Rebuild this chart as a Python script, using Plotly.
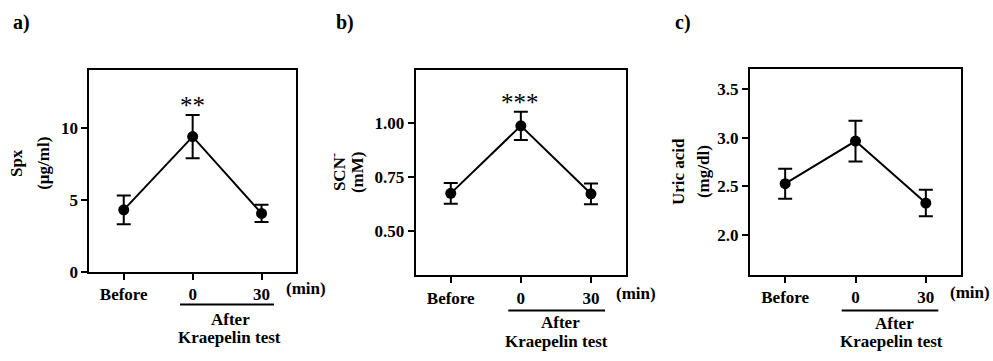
import plotly.graph_objects as go

W, H = 993, 361

# ---- data ----
time_labels = ["Before", "0", "30"]
spx_mean = [4.3, 9.4, 4.05]
spx_err = [1.0, 1.5, 0.6]
scn_mean = [0.676, 0.988, 0.674]
scn_err = [0.048, 0.065, 0.048]
uric_mean = [2.526, 2.966, 2.326]
uric_err = [0.155, 0.21, 0.137]

panel_letters = ["a)", "b)", "c)"]
y_titles = [("Spx", "(µg/ml)"), ("SCN<sup>-</sup>", "(mM)"), ("Uric acid", "(mg/dl)")]
sig_marks = ["**", "***"]
y_ranges = [[0, 14.06], [0.297, 1.247], [1.585, 3.71]]
y_ticks = [[0, 5, 10], [0.50, 0.75, 1.00], [2.0, 2.5, 3.0, 3.5]]
y_ticktext = [["0", "5", "10"], ["0.50", "0.75", "1.00"], ["2.0", "2.5", "3.0", "3.5"]]

FONT = "'Liberation Serif', 'Times New Roman', serif"

def px(x):
    return x / W

def py(y):
    return 1 - y / H

# pixel boxes of the three plot frames: (left, right, top, bottom)
boxes = [(89.3, 296.0, 71.7, 279.3), (415.7, 626.0, 71.7, 283.3), (750.0, 961.0, 71.0, 282.7)]

fig = go.Figure()
means = [spx_mean, scn_mean, uric_mean]
errs = [spx_err, scn_err, uric_err]
xs = list(range(len(time_labels)))

for i in range(3):
    ax = "" if i == 0 else str(i + 1)
    fig.add_trace(go.Scatter(
        x=xs, y=means[i],
        mode="lines+markers",
        line=dict(color="black", width=2),
        marker=dict(color="black", size=11),
        error_y=dict(type="data", array=errs[i], visible=True, color="black", thickness=2, width=7),
        xaxis="x" + ax, yaxis="y" + ax, showlegend=False, cliponaxis=False,
    ))
    l, r, t, b = boxes[i]
    axis_common = dict(showline=True, mirror=True, linecolor="black", linewidth=2,
                       showgrid=False, zeroline=False, ticks="outside", ticklen=6,
                       tickwidth=2, tickcolor="black",
                       tickfont=dict(family=FONT, size=17, color="black", weight="bold"))
    fig.layout["xaxis" + ax] = dict(domain=[px(l), px(r)], anchor="y" + ax,
                                    range=[-0.5, 2.5], tickvals=xs, ticktext=time_labels,
                                    **axis_common)
    fig.layout["yaxis" + ax] = dict(domain=[py(b), py(t)], anchor="x" + ax,
                                    range=y_ranges[i], tickvals=y_ticks[i], ticktext=y_ticktext[i],
                                    **axis_common)

ann = []
def txt(x, y, s, size=17, **kw):
    ann.append(dict(x=px(x), y=py(y), xref="paper", yref="paper", text=s, showarrow=False,
                    xanchor=kw.pop("xanchor", "center"), yanchor=kw.pop("yanchor", "middle"),
                    font=dict(family=FONT, size=size, color="black", weight=kw.pop("weight", "bold")), **kw))

# panel letters
for (x, y), s in zip([(21.7, 23), (345, 23), (683, 23)], panel_letters):
    txt(x, y, s, size=20)

# y-axis titles (two lines each)
ytitle_pos = [((16.7, 43.5), 168), ((338, 357), 177), ((678, 703), 177)]
for (xs2, yc), (l1, l2) in zip(ytitle_pos, y_titles):
    txt(xs2[0], yc, l1, size=17, textangle=-90)
    txt(xs2[1], yc, l2, size=17, textangle=-90)

# (min)
for x, y in [(306, 296.7), (636, 301.7), (970, 301)]:
    txt(x, y, "(min)")

# After / Kraepelin test
for (xa, ya), (xk, yk) in [((230.8, 328.3), (229, 346.7)), ((560, 331.8), (556.7, 350.8)), ((894, 332.3), (891.7, 351))]:
    txt(xa, ya, "After")
    txt(xk, yk, "Kraepelin test")

# significance stars
for x, y, s in [(192.7, 109, sig_marks[0]), (520.3, 105, sig_marks[1])]:
    txt(x, y, s, size=25, weight="normal")

shapes = []
for x0, x1, y in [(180, 274, 313.3), (508.3, 605, 319.3), (841.7, 938.3, 319.3)]:
    shapes.append(dict(type="line", xref="paper", yref="paper", x0=px(x0), x1=px(x1), y0=py(y), y1=py(y),
                       line=dict(color="black", width=2)))

fig.update_layout(width=W, height=H, margin=dict(l=0, r=0, t=0, b=0),
                  plot_bgcolor="white", paper_bgcolor="white",
                  annotations=ann, shapes=shapes,
                  font=dict(family=FONT, color="black"))

fig.write_html("out.html", config={"displayModeBar": False},
               post_script="document.body.style.margin='0';document.body.style.overflow='hidden';")
